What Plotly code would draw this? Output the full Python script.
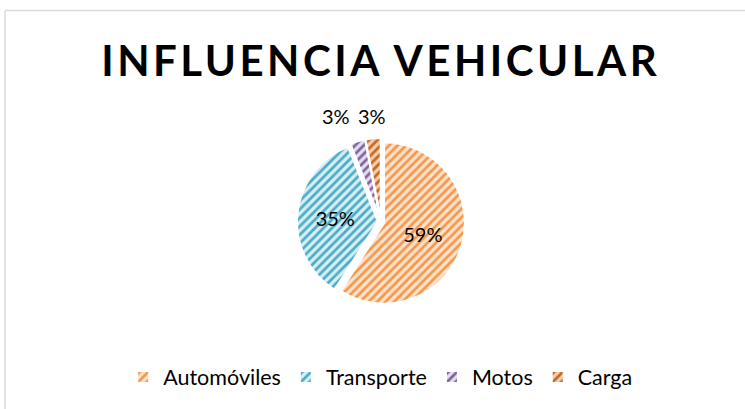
import math
import plotly.graph_objects as go

categories = ["Automóviles", "Transporte", "Motos", "Carga"]
values = [59, 35, 3, 3]
title_text = "INFLUENCIA VEHICULAR"

fg_colors = ["#F79646", "#4BACC6", "#8064A2", "#C8661E"]
bg_colors = ["#FDE3CF", "#D6EEF4", "#E4DDEE", "#F3CDB0"]

W, H = 745, 409

# pie geometry (pixels)
CX, CY = 381, 222
HALF = 84
PULL = 0.04

total = sum(values)
shares = [v / total for v in values]
is_small = [s < 0.05 for s in shares]

fig = go.Figure()
fig.add_trace(go.Pie(
    labels=categories,
    values=values,
    sort=False,
    direction="clockwise",
    rotation=0,
    pull=[PULL] * len(values),
    texttemplate="%{percent:.0%}",
    textposition=["none" if s else "inside" for s in is_small],
    insidetextorientation="horizontal",
    textfont=dict(family="Lato", size=20, color="#000000"),
    marker=dict(
        colors=bg_colors,
        line=dict(color="#FFFFFF", width=2),
        pattern=dict(shape="/", fgcolor=fg_colors, bgcolor=bg_colors,
                     size=6, solidity=0.45, fillmode="replace"),
    ),
    domain=dict(x=[(CX - HALF) / W, (CX + HALF) / W],
                y=[1 - (CY + HALF) / H, 1 - (CY - HALF) / H]),
    hoverinfo="skip",
))

# outside labels for the small slices, placed from slice angles
R = HALF / (1 + PULL)
annotations = []
cum = 0.0
small_positions = []
for i, s in enumerate(shares):
    mid = cum + s / 2
    cum += s
    if not is_small[i]:
        continue
    theta = 2 * math.pi * mid
    x = CX + (R + 10) * math.sin(theta)
    small_positions.append((i, x))
# resolve overlaps from right to left
LABEL_W = 30
GAP = 6
small_positions.sort(key=lambda t: -t[1])
placed = []
for i, x in small_positions:
    if placed and placed[-1][1] - x < LABEL_W + GAP:
        x = placed[-1][1] - (LABEL_W + GAP)
    placed.append((i, x))
for i, x in placed:
    annotations.append(dict(
        text=f"{round(shares[i] * 100)}%",
        xref="paper", yref="paper",
        x=x / W, y=1 - 116 / H,
        xanchor="center", yanchor="middle",
        showarrow=False,
        font=dict(family="Lato", size=20, color="#000000"),
    ))

fig.update_layout(
    width=W, height=H,
    margin=dict(l=0, r=0, t=0, b=0),
    paper_bgcolor="#FFFFFF",
    plot_bgcolor="#FFFFFF",
    title=dict(
        text='<b><span style="letter-spacing:3.5px">' + title_text + '</span></b>',
        font=dict(family="Lato", size=42, color="#000000"),
        x=0.511, xanchor="center",
        y=1 - 61 / H, yanchor="middle", yref="container",
    ),
    showlegend=True,
    legend=dict(
        orientation="h",
        x=0.511, xanchor="center",
        y=1 - 377 / H, yanchor="middle",
        font=dict(family="Lato", size=21.5, color="#000000"),
        itemwidth=30,
        traceorder="normal",
    ),
    annotations=annotations,
    shapes=[
        dict(type="line", xref="paper", yref="paper",
             x0=5 / W, x1=1.01, y0=1 - 10.5 / H, y1=1 - 10.5 / H,
             line=dict(color="#D9D9D9", width=1.5)),
        dict(type="line", xref="paper", yref="paper",
             x0=5 / W, x1=5 / W, y0=-0.01, y1=1 - 10.5 / H,
             line=dict(color="#D9D9D9", width=1.5)),
    ],
)

fig.write_html("out.html", config={"displayModeBar": False},
               post_script="document.body.style.margin='0px';")
